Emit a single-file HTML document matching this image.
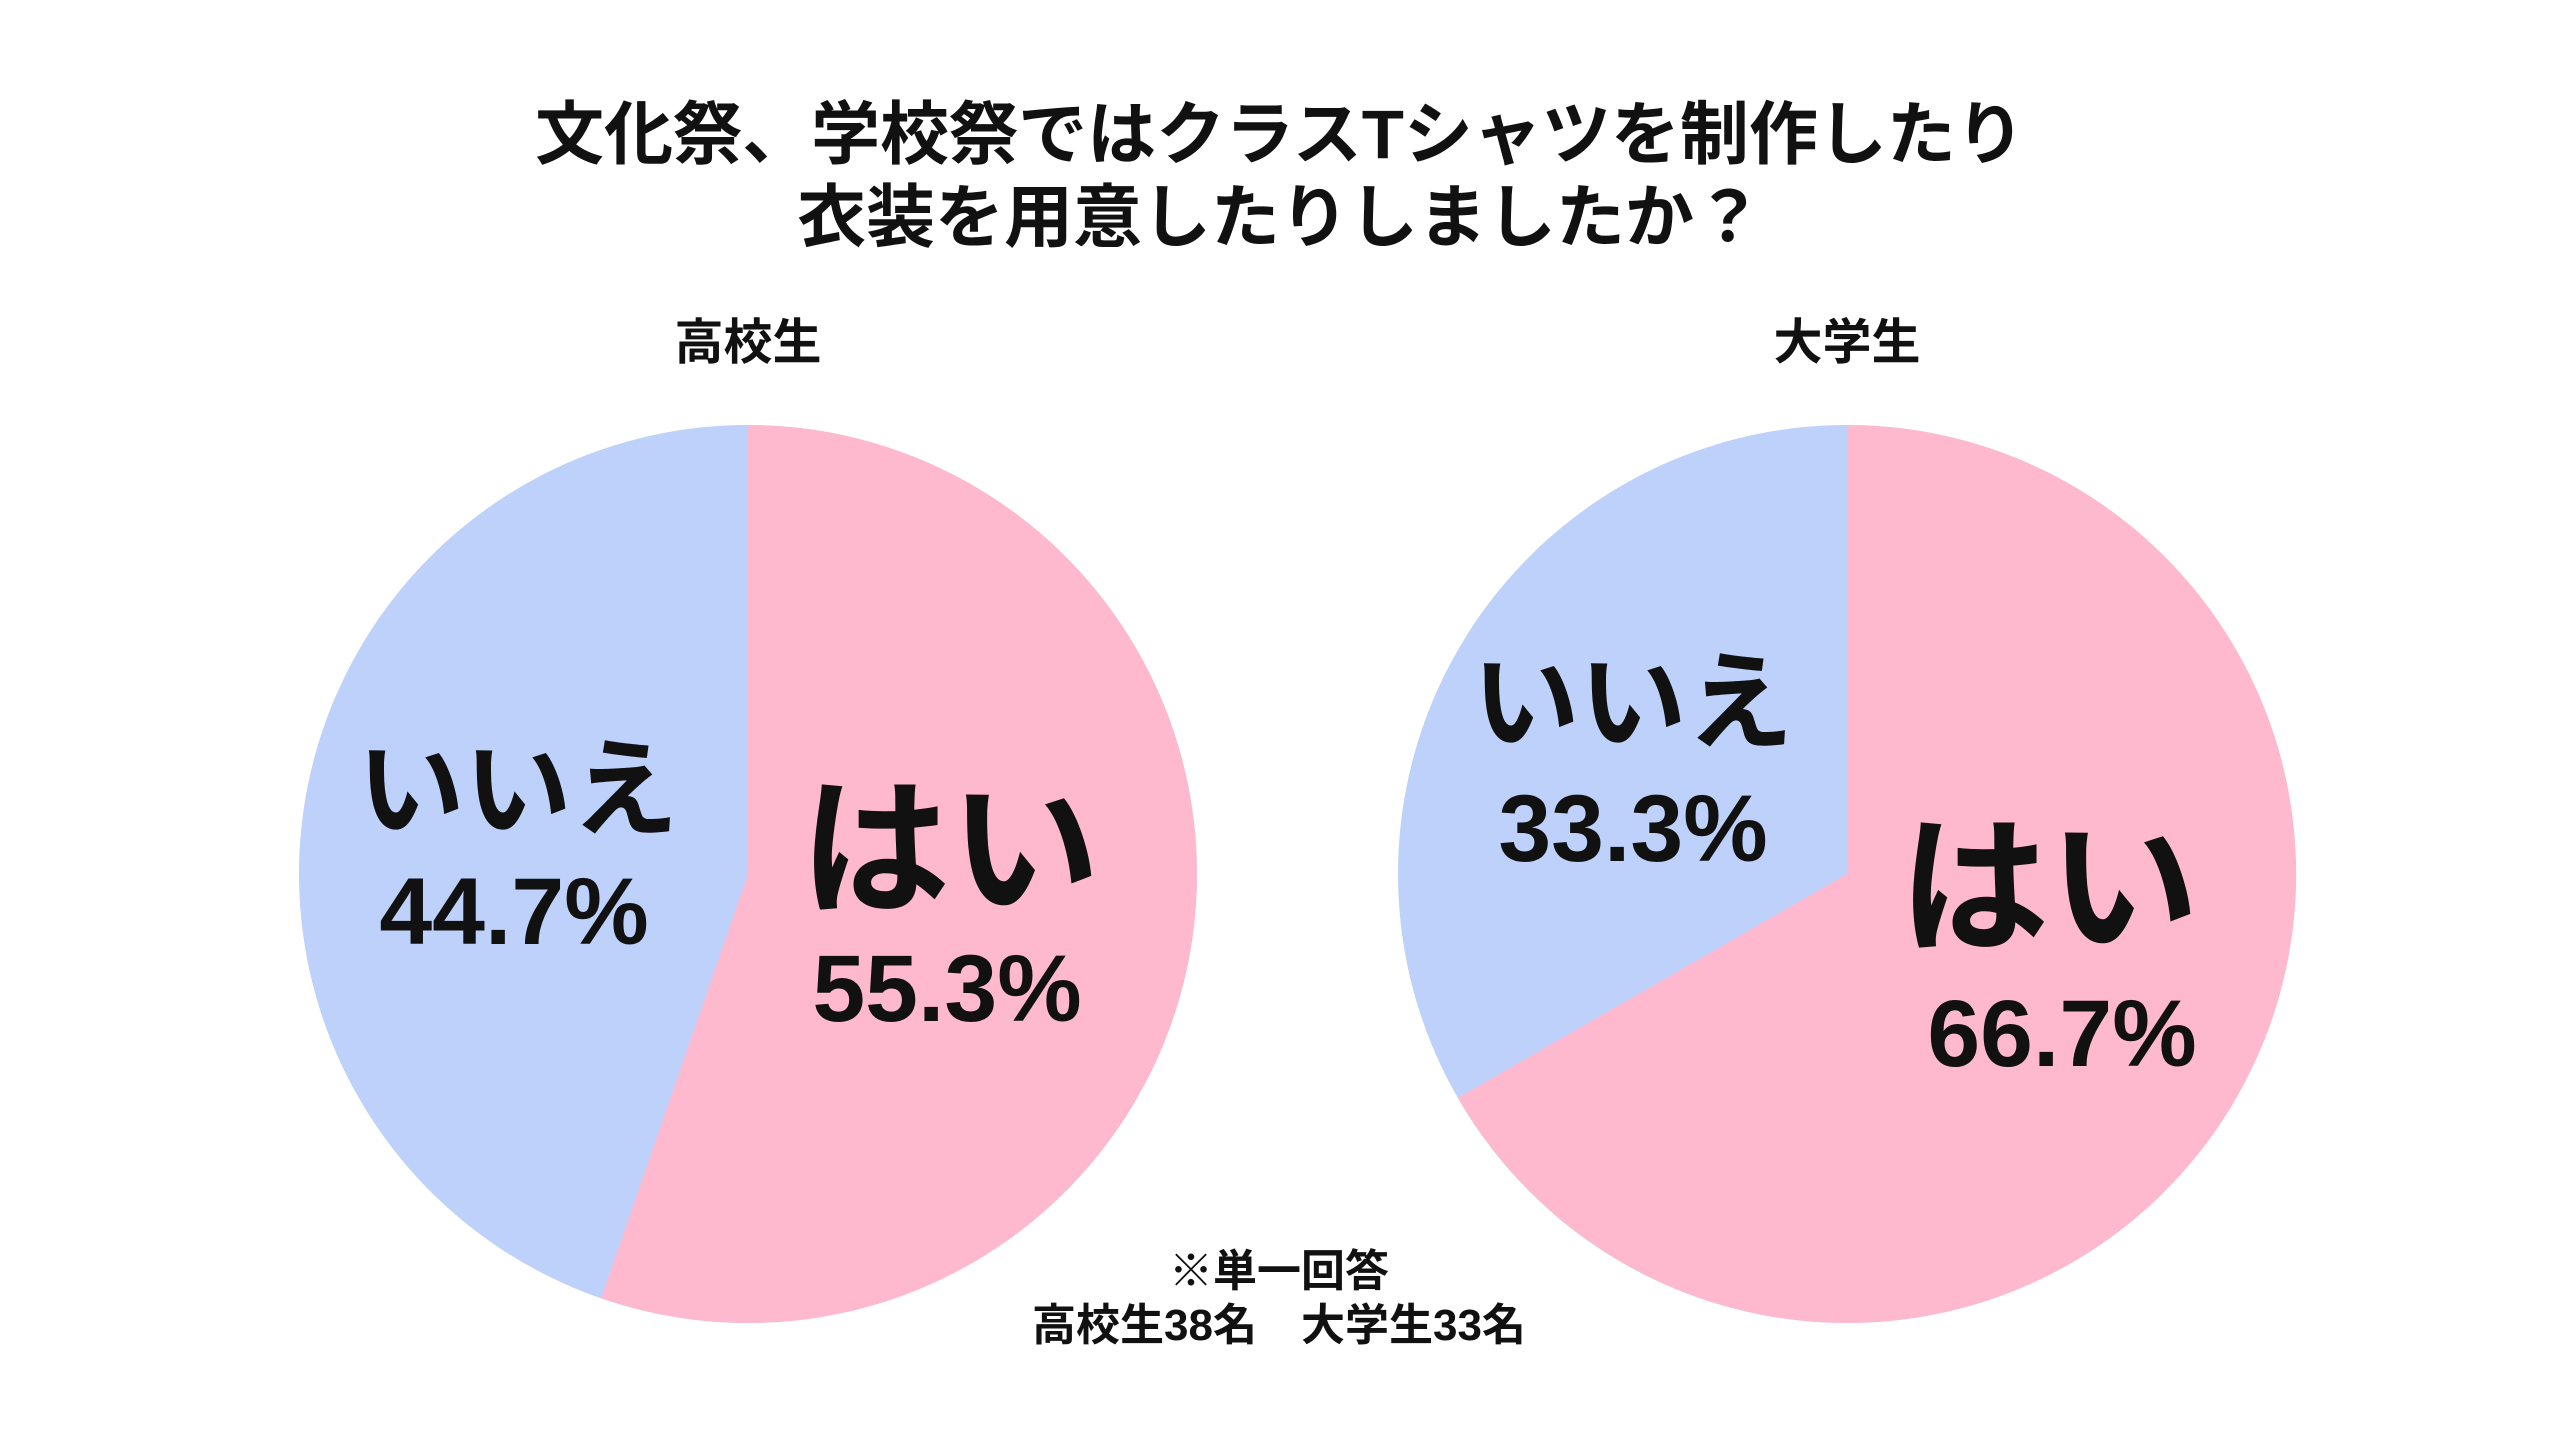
<!DOCTYPE html>
<html><head><meta charset="utf-8"><style>
html,body{margin:0;padding:0;background:#fff;}
svg{display:block;}
text{font-family:"Liberation Sans","Noto Sans CJK JP",sans-serif;font-weight:bold;fill:#111;text-anchor:middle;}
</style></head><body>
<svg width="2560" height="1440" viewBox="0 0 2560 1440" xmlns="http://www.w3.org/2000/svg">
<rect width="2560" height="1440" fill="#fff"/>
<text x="1280" y="158" font-size="69">文化祭、学校祭ではクラスTシャツを制作したり</text>
<text x="1280" y="241" font-size="69">衣装を用意したりしましたか？</text>
<text x="748" y="359" font-size="49">高校生</text>
<text x="1847" y="359" font-size="49">大学生</text>
<circle cx="748" cy="874" r="449" fill="#BDD1FB"/>
<path d="M748,874 L748,425 A449,449 0 1 1 601.1,1298.3 Z" fill="#FFB9CE"/>
<circle cx="1847" cy="874" r="449" fill="#BDD1FB"/>
<path d="M1847,874 L1847,425 A449,449 0 1 1 1457.9,1097.8 Z" fill="#FFB9CE"/>
<text x="518" y="827" font-size="107">いいえ</text>
<text x="514" y="944" font-size="95">44.7%</text>
<text x="950" y="902" font-size="150">はい</text>
<text x="947" y="1021" font-size="95">55.3%</text>
<text x="1633" y="740" font-size="107">いいえ</text>
<text x="1633" y="861" font-size="95">33.3%</text>
<text x="2049" y="940" font-size="150">はい</text>
<text x="2062" y="1066" font-size="95">66.7%</text>
<text x="1279" y="1286" font-size="44">※単一回答</text>
<text x="1279" y="1340" font-size="44">高校生38名　大学生33名</text>
</svg>
</body></html>
